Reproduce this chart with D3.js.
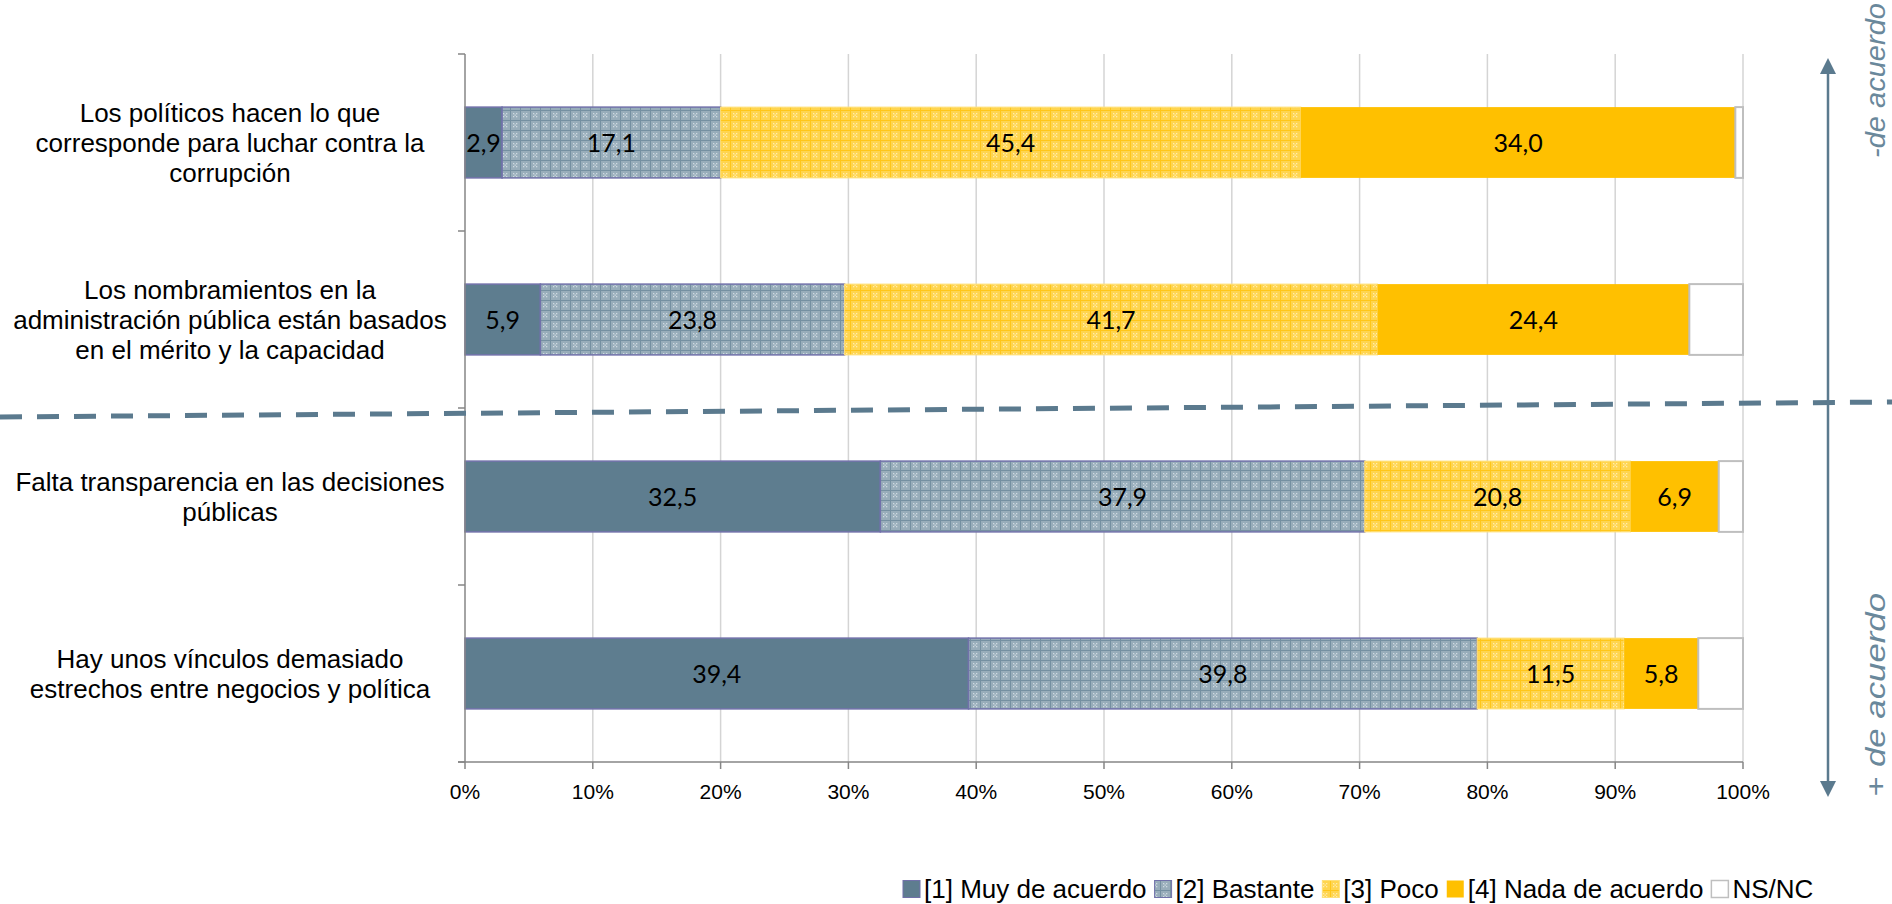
<!DOCTYPE html>
<html>
<head>
<meta charset="utf-8">
<script src="https://cdn.jsdelivr.net/npm/d3@7"></script>
<style>
  body { margin: 0; background: #fff; }
  svg { display: block; }
</style>
</head>
<body>
<div id="chart"></div>
<script>
// categories (top to bottom), label lines
var categories = ["c1", "c2", "c3", "c4"];
var categoryLines = [
    ["Los políticos hacen lo que", "corresponde para luchar contra la", "corrupción"],
    ["Los nombramientos en la", "administración pública están basados", "en el mérito y la capacidad"],
    ["Falta transparencia en las decisiones", "públicas"],
    ["Hay unos vínculos demasiado", "estrechos entre negocios y política"]
];
var seriesNames = ["[1] Muy de acuerdo", "[2] Bastante", "[3] Poco", "[4] Nada de acuerdo", "NS/NC"];
var muyAcuerdo = [2.9, 5.9, 32.5, 39.4];
var bastante   = [17.1, 23.8, 37.9, 39.8];
var poco       = [45.4, 41.7, 20.8, 11.5];
var nada       = [34.0, 24.4, 6.9, 5.8];
var nsnc       = [0.6, 4.2, 1.9, 3.5];
var xTicks = [0, 10, 20, 30, 40, 50, 60, 70, 80, 90, 100];

var W = 1892, H = 904;
var plot = {left: 465, right: 1743, top: 54, bottom: 762};

var svg = d3.select("#chart").append("svg")
    .attr("width", W)
    .attr("height", H);

// patterns
var defs = svg.append("defs");
function makePattern(id, bg, grid, dot) {
    var p = defs.append("pattern").attr("id", id)
        .attr("width", 10).attr("height", 10).attr("patternUnits", "userSpaceOnUse");
    p.append("rect").attr("width", 10).attr("height", 10).attr("fill", bg);
    p.append("rect").attr("width", 10).attr("height", 1).attr("fill", grid);
    p.append("rect").attr("width", 1).attr("height", 10).attr("fill", grid);
    [[3, 3], [6, 3], [3, 6], [6, 6], [4.5, 4.5]].forEach(function (q) {
        p.append("rect").attr("x", q[0]).attr("y", q[1]).attr("width", 1.3).attr("height", 1.3).attr("fill", dot);
    });
}
makePattern("pat-bastante", "#98adba", "#7590a1", "#cfdae1");
makePattern("pat-poco", "#ffd54f", "#ffc61a", "#ffecb0");

var fills = ["#5e7d8f", "url(#pat-bastante)", "url(#pat-poco)", "#ffc000", "#ffffff"];
var strokes = ["#7171aa", "#7171aa", "#ffe07a", "none", "#bfbfbf"];
var strokeW = [1.5, 1.5, 1, 0, 2];

var xScale = d3.scaleLinear().domain([0, 100]).range([plot.left, plot.right]);
var yScale = d3.scaleBand().domain(categories).range([plot.top, plot.bottom])
    .paddingInner(0.6).paddingOuter(0.3);
var step = yScale.step();

// gridlines
svg.append("g").selectAll("line")
    .data(xTicks.slice(1))
    .enter().append("line")
    .attr("x1", function (d) { return xScale(d); })
    .attr("x2", function (d) { return xScale(d); })
    .attr("y1", plot.top).attr("y2", plot.bottom)
    .attr("stroke", "#d4d4d4").attr("stroke-width", 1.5);

// stacked data
var table = categories.map(function (c, i) {
    return {cat: c, vals: [muyAcuerdo[i], bastante[i], poco[i], nada[i], nsnc[i]]};
});
var rows = svg.append("g").selectAll("g.row")
    .data(table).enter().append("g").attr("class", "row");

rows.each(function (d) {
    var g = d3.select(this);
    var acc = 0;
    d.vals.forEach(function (v, k) {
        var x0 = acc, x1 = acc + v;
        acc = x1;
        g.append("rect")
            .attr("x", xScale(x0))
            .attr("y", yScale(d.cat))
            .attr("width", xScale(x1) - xScale(x0))
            .attr("height", yScale.bandwidth())
            .attr("fill", fills[k])
            .attr("stroke", strokes[k])
            .attr("stroke-width", strokeW[k]);
        if (k < 4) {
            g.append("text")
                .attr("x", xScale((x0 + x1) / 2))
                .attr("y", yScale(d.cat) + yScale.bandwidth() / 2)
                .attr("dy", "0.36em")
                .attr("text-anchor", "middle")
                .attr("font-family", "Lato, 'Open Sans', sans-serif")
                .attr("font-size", 25)
                .attr("fill", "#000")
                .text(v.toFixed(1).replace(".", ","));
        }
    });
});

// axes
var axisCol = "#868686";
svg.append("line").attr("x1", plot.left).attr("x2", plot.left).attr("y1", plot.top).attr("y2", plot.bottom)
    .attr("stroke", axisCol).attr("stroke-width", 1.5);
svg.append("line").attr("x1", plot.left - 7).attr("x2", plot.right).attr("y1", plot.bottom).attr("y2", plot.bottom)
    .attr("stroke", axisCol).attr("stroke-width", 1.5);
var yBounds = d3.range(categories.length + 1).map(function (i) { return plot.top + i * step; });
svg.append("g").selectAll("line").data(yBounds).enter().append("line")
    .attr("x1", plot.left - 7).attr("x2", plot.left)
    .attr("y1", function (d) { return d; }).attr("y2", function (d) { return d; })
    .attr("stroke", axisCol).attr("stroke-width", 1.5);
svg.append("g").selectAll("line").data(xTicks).enter().append("line")
    .attr("x1", function (d) { return xScale(d); }).attr("x2", function (d) { return xScale(d); })
    .attr("y1", plot.bottom).attr("y2", plot.bottom + 7)
    .attr("stroke", axisCol).attr("stroke-width", 1.5);
svg.append("g").selectAll("text").data(xTicks).enter().append("text")
    .attr("x", function (d) { return xScale(d); })
    .attr("y", 799)
    .attr("text-anchor", "middle")
    .attr("font-family", "'Liberation Sans', Arial, sans-serif")
    .attr("font-size", 21)
    .attr("fill", "#000")
    .text(function (d) { return d + "%"; });

// category labels
var lineH = 30;
categories.forEach(function (c, i) {
    var lines = categoryLines[i];
    var cy = yScale(c) + yScale.bandwidth() / 2;
    var t = svg.append("text")
        .attr("text-anchor", "middle")
        .attr("font-family", "'Liberation Sans', Arial, sans-serif")
        .attr("font-size", 26)
        .attr("fill", "#000");
    lines.forEach(function (l, j) {
        t.append("tspan")
            .attr("x", 230)
            .attr("y", cy + (j - (lines.length - 1) / 2) * lineH)
            .attr("dy", "0.35em")
            .text(l);
    });
});

// dashed divider
var annCol = "#5b7a8e";
svg.append("line")
    .attr("x1", 0).attr("y1", 417).attr("x2", W).attr("y2", 402)
    .attr("stroke", annCol).attr("stroke-width", 5)
    .attr("stroke-dasharray", "22,15");

// double arrow
var ax = 1828;
svg.append("line").attr("x1", ax).attr("x2", ax).attr("y1", 70).attr("y2", 784)
    .attr("stroke", annCol).attr("stroke-width", 2.5);
svg.append("path").attr("d", "M" + ax + ",58 L" + (ax - 8) + ",74 L" + (ax + 8) + ",74 Z").attr("fill", annCol);
svg.append("path").attr("d", "M" + ax + ",797 L" + (ax - 8) + ",781 L" + (ax + 8) + ",781 Z").attr("fill", annCol);

svg.append("text")
    .attr("transform", "translate(1885,158) rotate(-90)")
    .attr("font-family", "'Liberation Sans', Arial, sans-serif")
    .attr("font-style", "italic")
    .attr("font-size", 28)
    .attr("textLength", 155)
    .attr("lengthAdjust", "spacingAndGlyphs")
    .attr("fill", "#6a889b")
    .text("-de acuerdo");
svg.append("text")
    .attr("transform", "translate(1885,797) rotate(-90)")
    .attr("font-family", "'Liberation Sans', Arial, sans-serif")
    .attr("font-style", "italic")
    .attr("font-size", 28)
    .attr("textLength", 204)
    .attr("lengthAdjust", "spacingAndGlyphs")
    .attr("fill", "#6a889b")
    .text("+ de acuerdo");

// legend
var legend = svg.append("g");
var lx = 903, ly = 889, sq = 17;
seriesNames.forEach(function (name, k) {
    legend.append("rect")
        .attr("x", lx).attr("y", ly - sq / 2)
        .attr("width", sq).attr("height", sq)
        .attr("fill", fills[k])
        .attr("stroke", k == 3 ? "none" : strokes[k])
        .attr("stroke-width", k == 4 ? 1.5 : 1);
    var t = legend.append("text")
        .attr("x", lx + sq + 4)
        .attr("y", ly)
        .attr("dy", "0.35em")
        .attr("font-family", "'Liberation Sans', Arial, sans-serif")
        .attr("font-size", 26)
        .attr("fill", "#000")
        .text(name);
    lx += sq + 4 + t.node().getComputedTextLength() + 8;
});
</script>
</body>
</html>
